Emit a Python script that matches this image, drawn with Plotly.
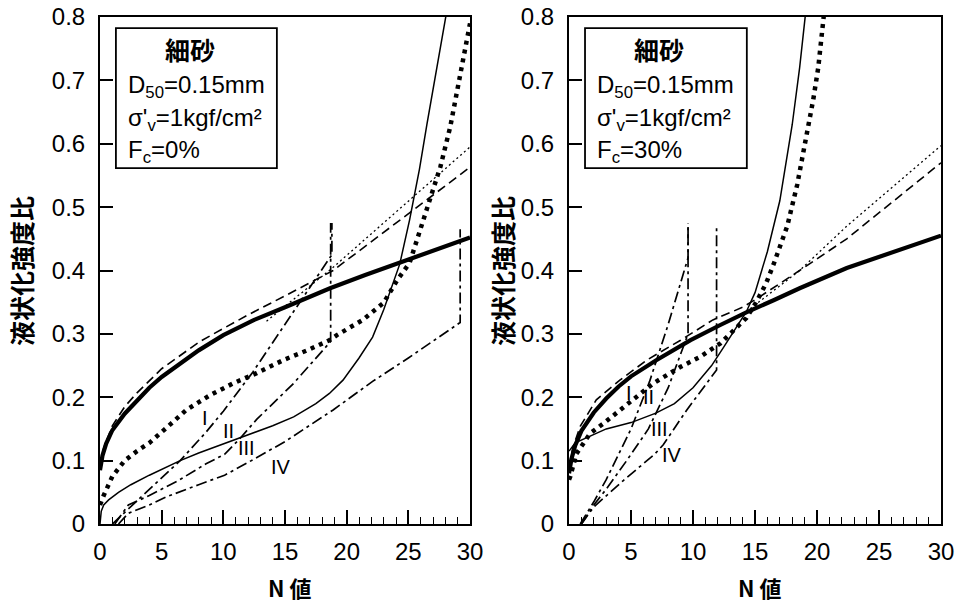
import plotly.graph_objects as go

# ---------------- data: left panel (Fc = 0%) ----------------
thickL_N = [0, 0.2, 0.5, 1, 2, 3, 4, 5, 6.5, 8, 10, 12.5, 15, 18.65, 21.5, 24.3, 27, 30]
thickL_R = [0.085, 0.108, 0.127, 0.148, 0.174, 0.195, 0.215, 0.232, 0.254, 0.274, 0.298, 0.322, 0.342, 0.372, 0.393, 0.413, 0.432, 0.452]

dashL_N = [0, 0.3, 1, 2, 3, 5, 8.1, 12, 15, 17, 18.9, 30]
dashL_R = [0.09, 0.12, 0.155, 0.185, 0.207, 0.245, 0.288, 0.33, 0.36, 0.38, 0.40, 0.563]

dotL_N = [13.5, 18.9, 30]
dotL_R = [0.32, 0.405, 0.595]

bdotL_N = [0, 0.3, 1, 2, 3, 4, 5.4, 7, 8.9, 10.8, 12.7, 14.9, 16.8, 18.6, 19.2, 21.3, 23, 24.1, 25.1, 25.8, 26.5, 27, 27.6, 28.4, 28.9, 29.5, 30]
bdotL_R = [0.03, 0.045, 0.075, 0.1, 0.115, 0.128, 0.152, 0.18, 0.203, 0.222, 0.238, 0.259, 0.274, 0.29, 0.298, 0.322, 0.349, 0.385, 0.412, 0.453, 0.496, 0.525, 0.564, 0.627, 0.679, 0.742, 0.79]

thinL_N = [0, 0.1, 0.3, 0.7, 1.5, 2.5, 4, 5, 6.5, 8, 10, 12, 14, 15.7, 17.5, 18.6, 19.7, 21, 22.1, 23, 24.3, 25.1, 25.9, 26.5, 27.3, 28, 28.3]
thinL_R = [0, 0.02, 0.03, 0.038, 0.05, 0.062, 0.077, 0.086, 0.1, 0.112, 0.126, 0.14, 0.155, 0.169, 0.19, 0.206, 0.227, 0.262, 0.295, 0.338, 0.41, 0.48, 0.56, 0.63, 0.72, 0.80, 0.83]

ddA_L_N = [1, 2, 4, 6.5, 8.6, 10, 12.4, 15.7, 18.8, 18.8]
ddA_L_R = [0, 0.018, 0.055, 0.10, 0.145, 0.178, 0.24, 0.335, 0.425, 0.475]
ddB_L_N = [1.2, 2.3, 4, 6.3, 8.6, 10.1, 11.35, 12.7, 15.7, 18.7, 18.7]
ddB_L_R = [0, 0.03, 0.045, 0.068, 0.095, 0.11, 0.135, 0.165, 0.222, 0.288, 0.475]
ddC_L_N = [1.5, 2.3, 4, 5.4, 8, 10.1, 11.9, 15, 18.9, 22.1, 25, 29.2, 29.2]
ddC_L_R = [0, 0.017, 0.03, 0.043, 0.062, 0.077, 0.096, 0.13, 0.18, 0.225, 0.262, 0.318, 0.465]

labL_text = ["I", "II", "III", "IV"]
labL_N = [8.5, 10.4, 11.9, 14.7]
labL_R = [0.167, 0.146, 0.12, 0.09]

# ---------------- data: right panel (Fc = 30%) ----------------
thickR_N = [0, 0.2, 0.5, 1, 2, 3, 4, 5, 7, 9.8, 12.2, 14.3, 16.5, 18.6, 22.4, 26, 30]
thickR_R = [0.08, 0.103, 0.124, 0.147, 0.176, 0.198, 0.217, 0.233, 0.258, 0.29, 0.314, 0.334, 0.353, 0.372, 0.404, 0.428, 0.455]

dashR_N = [0, 0.3, 0.9, 2.2, 4.1, 6.3, 9, 11.6, 14, 15.1, 18.6, 22.4, 30]
dashR_R = [0.09, 0.12, 0.154, 0.196, 0.227, 0.259, 0.29, 0.322, 0.342, 0.355, 0.40, 0.45, 0.57]

dotR_N = [14.3, 18.6, 22.4, 30]
dotR_R = [0.335, 0.40, 0.47, 0.597]

bdotR_N = [0, 0.1, 0.6, 1.7, 2.8, 4.1, 5.2, 6.8, 9, 10.6, 12.2, 13.3, 14.3, 15.1, 15.9, 16.5, 17.6, 18.4, 19.2, 19.7, 20.1, 20.5, 20.7]
bdotR_R = [0.07, 0.075, 0.111, 0.143, 0.159, 0.18, 0.196, 0.222, 0.248, 0.264, 0.285, 0.306, 0.325, 0.35, 0.38, 0.41, 0.47, 0.535, 0.615, 0.67, 0.72, 0.79, 0.83]

thinR_N = [0, 0.5, 3, 5, 7, 8.5, 10, 11.5, 12.5, 13.5, 14.3, 15, 16, 17, 18, 18.6, 19.1]
thinR_R = [0.115, 0.128, 0.15, 0.16, 0.175, 0.19, 0.215, 0.25, 0.28, 0.31, 0.335, 0.365, 0.43, 0.51, 0.63, 0.72, 0.81]

ddA_R_N = [0.9, 2, 3, 4, 5, 6.5, 8, 9.6, 9.6]
ddA_R_R = [0, 0.035, 0.07, 0.11, 0.15, 0.225, 0.315, 0.42, 0.475]
ddB_R_N = [1, 2, 3, 4.65, 6.4, 8, 9.6, 9.6]
ddB_R_R = [0, 0.03, 0.055, 0.10, 0.15, 0.215, 0.30, 0.475]
ddC_R_N = [1, 2, 4.4, 6.9, 7.6, 9.5, 11.9, 11.9]
ddC_R_R = [0, 0.027, 0.069, 0.11, 0.125, 0.18, 0.243, 0.47]

labR_text = ["I", "II", "III", "IV"]
labR_N = [4.8, 6.45, 7.3, 8.3]
labR_R = [0.207, 0.2, 0.15, 0.109]

box_title = "細砂"
box_lines_L = ["D<sub>50</sub>=0.15mm", "σ'<sub>v</sub>=1kgf/cm²", "F<sub>c</sub>=0%"]
box_lines_R = ["D<sub>50</sub>=0.15mm", "σ'<sub>v</sub>=1kgf/cm²", "F<sub>c</sub>=30%"]

x_title = "N 値"
y_title = "液状化強度比"
x_ticks = [0, 5, 10, 15, 20, 25, 30]
y_ticks = [0, 0.1, 0.2, 0.3, 0.4, 0.5, 0.6, 0.7, 0.8]
y_ticktext = ["0", "0.1", "0.2", "0.3", "0.4", "0.5", "0.6", "0.7", "0.8"]

# ---------------- styles ----------------
BLK = "black"
S_THICK = dict(color=BLK, width=4.2)
S_THIN = dict(color=BLK, width=1.5)
S_DASH = dict(color=BLK, width=1.6, dash="9px,5px")
S_DOT = dict(color=BLK, width=1.3, dash="2px,3px")
S_BDOT = dict(color=BLK, width=4.5, dash="4px,5px")
S_DD = dict(color=BLK, width=1.7, dash="11px,4px,3px,4px")

fig = go.Figure()

def add_panel(xa, ya, sets):
    for (xs, ys, st) in sets:
        fig.add_trace(go.Scatter(x=xs, y=ys, mode="lines", line=st,
                                 xaxis=xa, yaxis=ya, showlegend=False,
                                 hoverinfo="skip"))

add_panel("x", "y", [
    (ddA_L_N, ddA_L_R, S_DD), (ddB_L_N, ddB_L_R, S_DD), (ddC_L_N, ddC_L_R, S_DD),
    (dotL_N, dotL_R, S_DOT), (dashL_N, dashL_R, S_DASH),
    (thinL_N, thinL_R, S_THIN), (bdotL_N, bdotL_R, S_BDOT),
    (thickL_N, thickL_R, S_THICK),
])
add_panel("x2", "y2", [
    (ddA_R_N, ddA_R_R, S_DD), (ddB_R_N, ddB_R_R, S_DD), (ddC_R_N, ddC_R_R, S_DD),
    (dotR_N, dotR_R, S_DOT), (dashR_N, dashR_R, S_DASH),
    (thinR_N, thinR_R, S_THIN), (bdotR_N, bdotR_R, S_BDOT),
    (thickR_N, thickR_R, S_THICK),
])

FONT = "Liberation Sans, Arial, sans-serif"
CJK = "Noto Sans CJK JP, sans-serif"

def xaxis_cfg(domain, anchor):
    return dict(domain=domain, anchor=anchor, range=[0, 30], tickvals=x_ticks,
                automargin=False, ticklabeloverflow="allow",
                ticks="inside", ticklen=14, tickwidth=1.5, tickcolor=BLK,
                minor=dict(dtick=1, ticks="inside", ticklen=7, tickwidth=1.2, tickcolor=BLK),
                showline=True, linewidth=2, linecolor=BLK, mirror=True,
                showgrid=False, zeroline=False,
                tickfont=dict(family=FONT, size=24, color=BLK),
                ticklabelstandoff=5)

def yaxis_cfg(anchor):
    return dict(domain=[0, 1], range=[0, 0.8], tickvals=y_ticks, ticktext=y_ticktext,
                anchor=anchor, automargin=False, ticklabeloverflow="allow",
                ticks="inside", ticklen=13, tickwidth=1.5, tickcolor=BLK,
                showline=True, linewidth=2, linecolor=BLK, mirror=True,
                showgrid=False, zeroline=False,
                tickfont=dict(family=FONT, size=24, color=BLK),
                ticklabelstandoff=8)

fig.update_layout(
    width=957, height=605,
    margin=dict(l=100, r=16, t=17, b=81),
    paper_bgcolor="white", plot_bgcolor="white",
    xaxis=xaxis_cfg([0, 0.44], "y"),
    yaxis=yaxis_cfg("x"),
    xaxis2=xaxis_cfg([0.5577, 1], "y2"),
    yaxis2=yaxis_cfg("x2"),
)

# axis titles, info boxes
for xr, yr, lines, ytx in [("x domain", "y domain", box_lines_L, -0.2135),
                           ("x2 domain", "y2 domain", box_lines_R, -0.18)]:
    fig.add_annotation(xref=xr, yref=yr, x=ytx, y=0.499, text="<b>" + y_title + "</b>", textangle=-90,
                       xanchor="center", yanchor="middle",
                       showarrow=False, font=dict(family=CJK, size=25, color=BLK))
    fig.add_annotation(xref=xr, yref=yr, x=0.513, y=-0.125, text="<b>" + x_title + "</b>",
                       xanchor="center", yanchor="middle",
                       showarrow=False, font=dict(family=CJK, size=22, color=BLK))
    fig.add_shape(type="rect", xref=xr, yref=yr, x0=0.043, x1=0.478, y0=0.702, y1=0.978,
                  line=dict(color=BLK, width=1.8), fillcolor="white", layer="above")
    fig.add_annotation(xref=xr, yref=yr, x=0.243, y=0.937, text="<b>" + box_title + "</b>",
                       xanchor="center", yanchor="middle",
                       showarrow=False, font=dict(family=CJK, size=25, color=BLK))
    for i, t in enumerate(lines):
        fig.add_annotation(xref=xr, yref=yr, x=0.07, y=0.862 - i * 0.064, text=t,
                           xanchor="left", yanchor="middle", showarrow=False,
                           font=dict(family=FONT, size=24, color=BLK))

for xa, ya, txts, ns, rs in [("x", "y", labL_text, labL_N, labL_R), ("x2", "y2", labR_text, labR_N, labR_R)]:
    for t, n, r in zip(txts, ns, rs):
        fig.add_annotation(xref=xa, yref=ya, x=n, y=r, text=t, showarrow=False,
                           xanchor="center", yanchor="middle",
                           font=dict(family=FONT, size=20, color=BLK))

# remove the browser's default 8px body margin so the 957x605 figure fills the window
fig.write_html("out.html", config={"displayModeBar": False},
               post_script="document.body.style.margin='0';")
